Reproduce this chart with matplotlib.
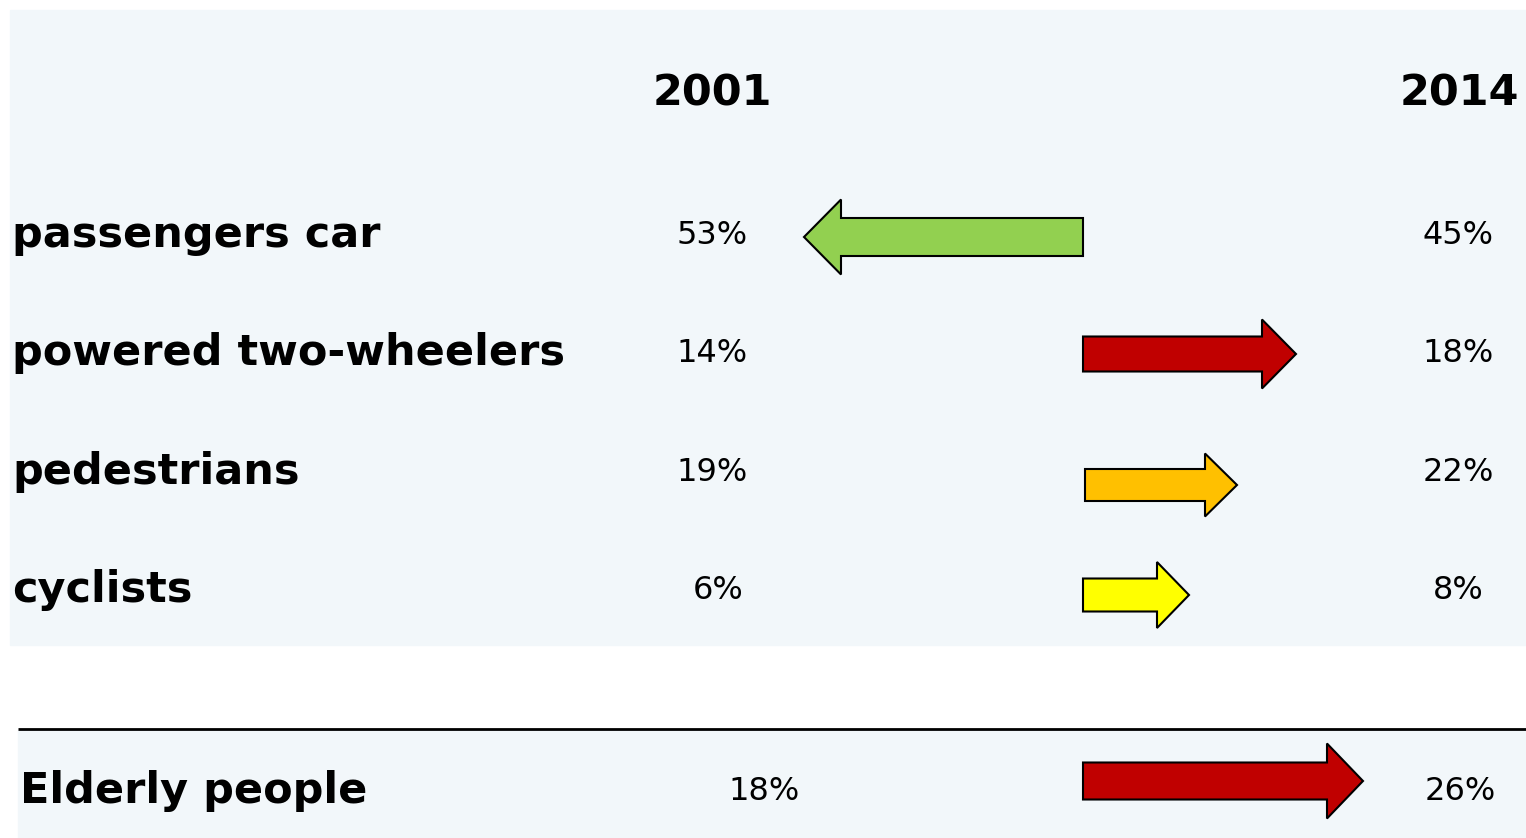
import matplotlib.pyplot as plt
from matplotlib.patches import Rectangle, FancyArrow

# data
categories = ["passengers car", "powered two-wheelers", "pedestrians", "cyclists"]
share_2001 = ["53%", "14%", "19%", "6%"]
share_2014 = ["45%", "18%", "22%", "8%"]
arrow_colors = ["#92D050", "#C00000", "#FFC000", "#FFFF00"]
years = ["2001", "2014"]

elderly_label = "Elderly people"
elderly_2001 = "18%"
elderly_2014 = "26%"
elderly_color = "#C00000"

# layout (pixel coords, y down)
W, H = 1526, 838
row_y = [235, 353, 472, 590]
col_2001 = [712, 712, 712, 718]
col_2014 = 1458
arrow_y = [237, 354, 485, 595]
arrow_x0 = [1083, 1083, 1085, 1083]
arrow_x1 = [804, 1296, 1237, 1189]
shaft_w = [38, 35, 32, 33]
head_w = [75, 69, 63, 66]
head_l = [37, 34, 32, 32]

fig = plt.figure(figsize=(W / 100, H / 100), dpi=100)
ax = fig.add_axes([0, 0, 1, 1])
ax.set_xlim(0, W)
ax.set_ylim(H, 0)
ax.axis("off")

bg = "#F2F7FA"
ax.add_patch(Rectangle((10, 10), W - 10, 635, color=bg, zorder=0))
ax.add_patch(Rectangle((18, 730), W - 18, 108, color=bg, zorder=0))
ax.plot([18, W], [729, 729], color="black", lw=2, solid_capstyle="butt")

ax.text(712, 93, years[0], fontsize=31, fontweight="bold", ha="center", va="center")
ax.text(1459, 93, years[1], fontsize=31, fontweight="bold", ha="center", va="center")

for i, cat in enumerate(categories):
    ax.text(12, row_y[i], cat, fontsize=31, fontweight="bold", ha="left", va="center")
    ax.text(col_2001[i], row_y[i], share_2001[i], fontsize=23, ha="center", va="center")
    ax.text(col_2014, row_y[i], share_2014[i], fontsize=23, ha="center", va="center")
    ax.add_patch(FancyArrow(arrow_x0[i], arrow_y[i], arrow_x1[i] - arrow_x0[i], 0,
                            width=shaft_w[i], head_width=head_w[i], head_length=head_l[i],
                            length_includes_head=True, fc=arrow_colors[i], ec="black", lw=1.5))

ax.text(20, 791, elderly_label, fontsize=31, fontweight="bold", ha="left", va="center")
ax.text(764, 791, elderly_2001, fontsize=23, ha="center", va="center")
ax.text(1460, 791, elderly_2014, fontsize=23, ha="center", va="center")
ax.add_patch(FancyArrow(1083, 781, 1363 - 1083, 0, width=37, head_width=75, head_length=36,
                        length_includes_head=True, fc=elderly_color, ec="black", lw=1.5))

fig.savefig("out.png", dpi=100)
